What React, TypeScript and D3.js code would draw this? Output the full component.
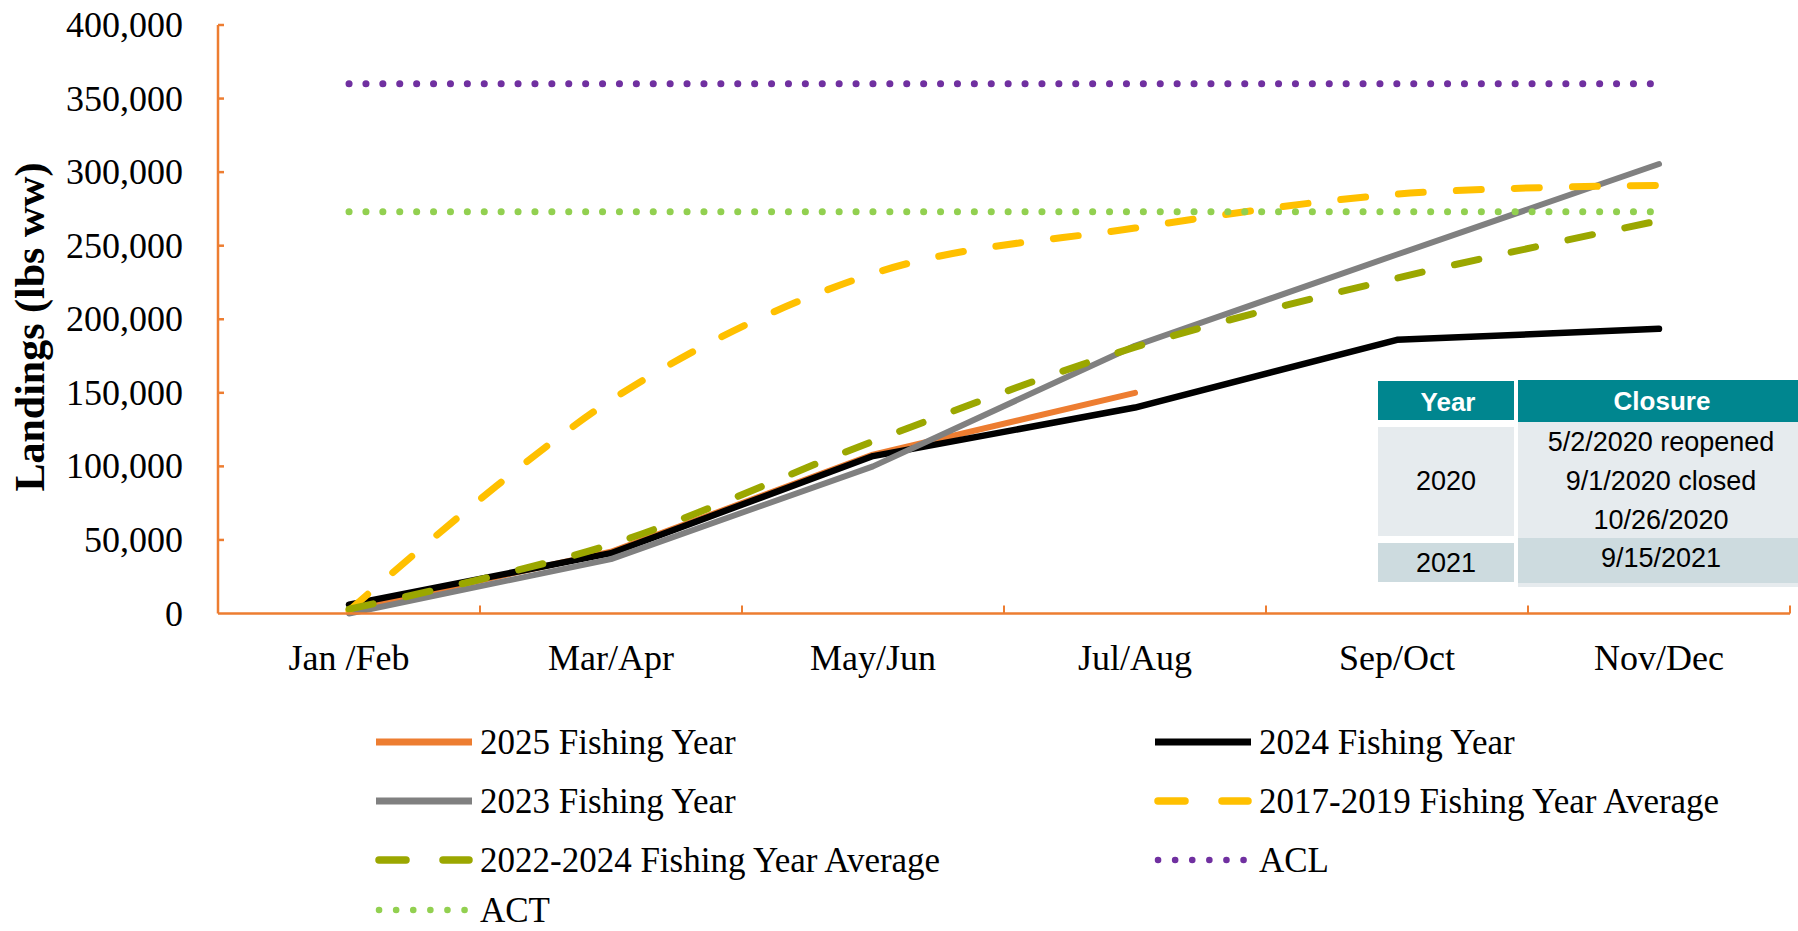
import React from "react";
import * as d3 from "d3";

const categories = ["Jan /Feb", "Mar/Apr", "May/Jun", "Jul/Aug", "Sep/Oct", "Nov/Dec"];
const fy2025 = [3000, 42000, 108000, 150000];
const fy2024 = [6000, 41000, 107000, 140000, 186000, 193500];
const fy2023 = [0, 37000, 100000, 182000, 244000, 305500];
const avg1719 = [2000, 145000, 231000, 262000, 285000, 291000];
const avg2224 = [3000, 47000, 117000, 181000, 228000, 267000];
const aclValue = 360000;
const actValue = 273000;
const yTicks = [0, 50000, 100000, 150000, 200000, 250000, 300000, 350000, 400000];

const legendItems = [
  { label: "2025 Fishing Year", key: "fy2025" },
  { label: "2024 Fishing Year", key: "fy2024" },
  { label: "2023 Fishing Year", key: "fy2023" },
  { label: "2017-2019 Fishing Year Average", key: "avg1719" },
  { label: "2022-2024 Fishing Year Average", key: "avg2224" },
  { label: "ACL", key: "acl" },
  { label: "ACT", key: "act" },
];

const tableHeader = ["Year", "Closure"];
const tableRow2020 = { year: "2020", lines: ["5/2/2020 reopened", "9/1/2020 closed", "10/26/2020"] };
const tableRow2021 = { year: "2021", lines: ["9/15/2021"] };

const styles: Record<string, any> = {
  fy2025: { stroke: "#ED7D31", dash: null, width: 6 },
  fy2024: { stroke: "#000000", dash: null, width: 6.5 },
  fy2023: { stroke: "#808080", dash: null, width: 6 },
  avg1719: { stroke: "#FFC000", dash: "25,33", width: 7 },
  avg2224: { stroke: "#9BA700", dash: "25,33", width: 7 },
  acl: { stroke: "#7030A0", dash: "0.1,16.8", width: 7 },
  act: { stroke: "#92D050", dash: "0.1,16.8", width: 7 },
};

const AXIS = "#ED7D31";
const SERIF = "'Liberation Serif', 'Times New Roman', serif";
const SANS = "'Liberation Sans', Arial, sans-serif";

export default function App() {
  const W = 1798, H = 931;
  const left = 218, right = 1790, top = 25, bottom = 613.5;
  const x = d3.scaleBand<string>().domain(categories).range([left, right]).padding(0);
  const y = d3.scaleLinear().domain([0, 400000]).range([bottom, top]);
  const cx = (i: number) => (x(categories[i]) as number) + x.bandwidth() / 2;

  const straight = d3.line<number>().x((_, i) => cx(i)).y((d) => y(d));
  const smooth = d3.line<number>().x((_, i) => cx(i)).y((d) => y(d)).curve(d3.curveCardinal);

  const series = [
    { key: "fy2025", d: straight(fy2025) },
    { key: "fy2024", d: straight(fy2024) },
    { key: "fy2023", d: straight(fy2023) },
    { key: "avg1719", d: smooth(avg1719) },
    { key: "avg2224", d: smooth(avg2224) },
    { key: "acl", d: straight(categories.map(() => aclValue)) },
    { key: "act", d: straight(categories.map(() => actValue)) },
  ];

  const boundaries = categories.map((c) => (x(c) as number) + x.bandwidth());

  const legendCols = [376, 1155];
  const legendRows = [742, 801, 860, 910];

  const tX1 = 1378, tX1e = 1514, tX2 = 1518, tX2e = 1798;

  return (
    <svg width={W} height={H} style={{ position: "absolute", left: 0, top: 0, background: "#fff" }}>
      {series.map((s) => {
        const st = styles[s.key];
        return (
          <path key={s.key} d={s.d || ""} fill="none" stroke={st.stroke} strokeWidth={st.width}
            strokeDasharray={st.dash || undefined} strokeLinecap="round" strokeLinejoin="round" />
        );
      })}

      <line x1={left} x2={left} y1={top} y2={bottom} stroke={AXIS} strokeWidth={2.5} />
      <line x1={left} x2={right} y1={bottom} y2={bottom} stroke={AXIS} strokeWidth={2.5} />
      {yTicks.filter((t) => t > 0).map((t) => (
        <line key={"yt" + t} x1={left} x2={left + 6} y1={y(t)} y2={y(t)} stroke={AXIS} strokeWidth={2.5} />
      ))}
      {boundaries.map((b, i) => (
        <line key={"xt" + i} x1={b} x2={b} y1={bottom} y2={bottom - 8} stroke={AXIS} strokeWidth={2} />
      ))}
      {yTicks.map((t) => (
        <text key={"yl" + t} x={183} y={y(t)} textAnchor="end" dominantBaseline="central"
          fontFamily={SERIF} fontSize={36} fill="#000">{d3.format(",")(t)}</text>
      ))}
      {categories.map((c, i) => (
        <text key={"xl" + c} x={cx(i)} y={658} textAnchor="middle" dominantBaseline="central"
          fontFamily={SERIF} fontSize={36} fill="#000">{c}</text>
      ))}
      <text transform="translate(44,327) rotate(-90)" textAnchor="middle" fontFamily={SERIF}
        fontWeight="bold" fontSize={42} fill="#000">Landings (lbs ww)</text>

      <rect x={tX1} y={381} width={tX1e - tX1} height={39} fill="#00868F" />
      <rect x={tX2} y={380} width={tX2e - tX2} height={42} fill="#00868F" />
      <rect x={tX1} y={427} width={tX1e - tX1} height={109} fill="#E6EBEE" />
      <rect x={tX2} y={422} width={tX2e - tX2} height={116} fill="#E6EBEE" />
      <rect x={tX1} y={543} width={tX1e - tX1} height={39} fill="#CDDBDF" />
      <rect x={tX2} y={538} width={tX2e - tX2} height={45} fill="#CDDBDF" />
      <rect x={tX2} y={583} width={tX2e - tX2} height={4} fill="#E6EBEE" />
      <text x={1448} y={402} textAnchor="middle" dominantBaseline="central" fontFamily={SANS}
        fontWeight="bold" fontSize={26} fill="#fff">{tableHeader[0]}</text>
      <text x={1662} y={401} textAnchor="middle" dominantBaseline="central" fontFamily={SANS}
        fontWeight="bold" fontSize={26} fill="#fff">{tableHeader[1]}</text>
      <text x={1446} y={481} textAnchor="middle" dominantBaseline="central" fontFamily={SANS}
        fontSize={27} fill="#000">{tableRow2020.year}</text>
      {tableRow2020.lines.map((l, i) => (
        <text key={l} x={1661} y={442 + i * 39} textAnchor="middle" dominantBaseline="central" fontFamily={SANS}
          fontSize={27} fill="#000">{l}</text>
      ))}
      <text x={1446} y={563} textAnchor="middle" dominantBaseline="central" fontFamily={SANS}
        fontSize={27} fill="#000">{tableRow2021.year}</text>
      <text x={1661} y={558} textAnchor="middle" dominantBaseline="central" fontFamily={SANS}
        fontSize={27} fill="#000">{tableRow2021.lines[0]}</text>

      {legendItems.map((it, i) => {
        const col = i % 2, row = Math.floor(i / 2);
        const lx = legendCols[col], ly = legendRows[row];
        const st = styles[it.key];
        let sample;
        if (it.key === "avg1719" || it.key === "avg2224") {
          sample = (
            <g>
              <line x1={lx + 3} x2={lx + 30} y1={ly} y2={ly} stroke={st.stroke} strokeWidth={7.5} strokeLinecap="round" />
              <line x1={lx + 67} x2={lx + 93} y1={ly} y2={ly} stroke={st.stroke} strokeWidth={7.5} strokeLinecap="round" />
            </g>
          );
        } else if (it.key === "acl" || it.key === "act") {
          sample = <line x1={lx + 3} x2={lx + 95} y1={ly} y2={ly} stroke={st.stroke} strokeWidth={6.5}
            strokeLinecap="round" strokeDasharray="0.1,17" />;
        } else {
          sample = <line x1={lx} x2={lx + 96} y1={ly} y2={ly} stroke={st.stroke} strokeWidth={7} />;
        }
        return (
          <g key={it.key}>
            {sample}
            <text x={lx + 104} y={ly} dominantBaseline="central" fontFamily={SERIF} fontSize={35} fill="#000">{it.label}</text>
          </g>
        );
      })}
    </svg>
  );
}
